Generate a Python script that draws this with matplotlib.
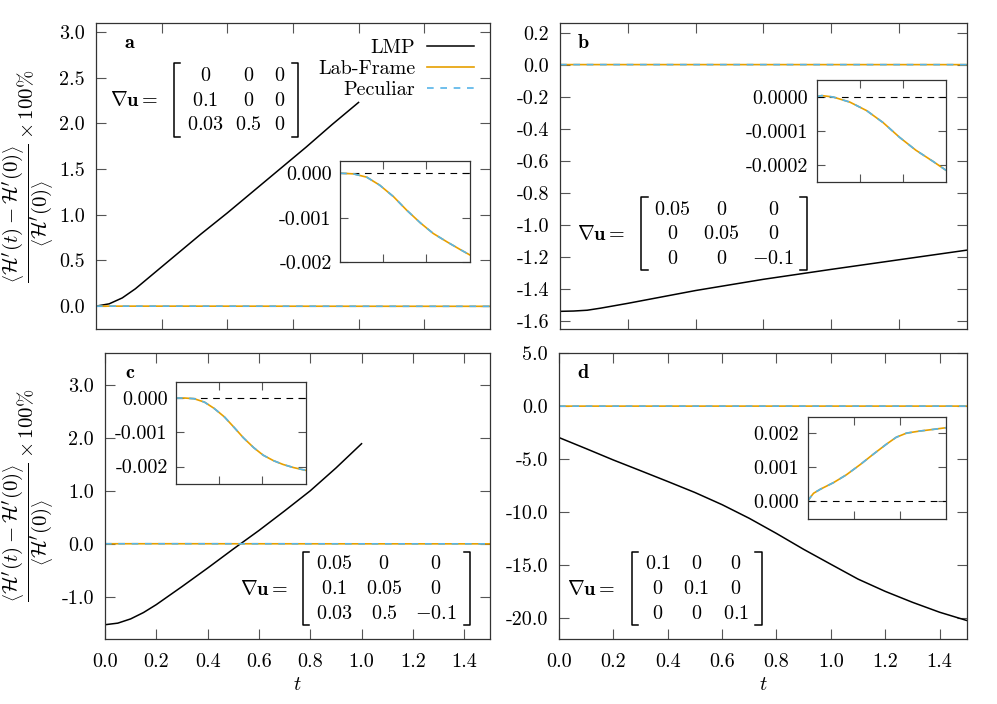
import matplotlib
matplotlib.use('Agg')
import matplotlib.pyplot as plt
from matplotlib.ticker import FormatStrFormatter, FixedLocator

plt.rcParams['font.family'] = 'cmr10'
plt.rcParams['mathtext.fontset'] = 'cm'
plt.rcParams['axes.unicode_minus'] = False
plt.rcParams['font.size'] = 14.5

# --- data ---
# panel a
t_lmp_a = [0, 0.05, 0.1, 0.15, 0.2, 0.25, 0.3, 0.4, 0.5, 0.6, 0.7, 0.8, 0.9, 1.0]
lmp_a = [0, 0.025, 0.09, 0.19, 0.31, 0.43, 0.55, 0.79, 1.02, 1.26, 1.5, 1.74, 1.99, 2.23]
t_lab_a = [0, 0.155, 0.31, 0.46, 0.62, 0.77, 0.93, 1.08, 1.24, 1.39, 1.5]
lab_a = [0, -0.000015, -0.00009, -0.00027, -0.00053, -0.00083, -0.00112, -0.00136, -0.00155, -0.00172, -0.00184]
pec_a = [0, -0.000015, -0.00009, -0.00027, -0.00053, -0.00083, -0.00112, -0.00136, -0.00155, -0.00172, -0.00184]

# panel b
t_lmp_b = [0, 0.05, 0.1, 0.15, 0.25, 0.375, 0.5, 0.75, 1.0, 1.25, 1.5]
lmp_b = [-1.54, -1.538, -1.533, -1.52, -1.49, -1.45, -1.41, -1.34, -1.278, -1.218, -1.158]
t_lab_b = [0, 0.06, 0.19, 0.385, 0.58, 0.77, 0.96, 1.15, 1.35, 1.5]
lab_b = [0, 0.000003, -0.000001, -0.000016, -0.000041, -0.000076, -0.000119, -0.000157, -0.00019, -0.000216]
pec_b = [0, 0.000003, -0.000001, -0.000016, -0.000041, -0.000076, -0.000119, -0.000157, -0.00019, -0.000216]

# panel c
t_lmp_c = [0, 0, 0.05, 0.1, 0.15, 0.2, 0.25, 0.3, 0.4, 0.5, 0.6, 0.7, 0.8, 0.9, 1.0]
lmp_c = [0, -1.53, -1.5, -1.42, -1.3, -1.15, -0.98, -0.81, -0.46, -0.1, 0.25, 0.62, 1.0, 1.43, 1.89]
t_lab_c = [0, 0.1, 0.21, 0.33, 0.44, 0.56, 0.67, 0.78, 0.9, 1.01, 1.13, 1.24, 1.36, 1.5]
lab_c = [0, 0, -0.00002, -0.00012, -0.0003, -0.00055, -0.00085, -0.00116, -0.00145, -0.00167, -0.00183, -0.00194, -0.00203, -0.00211]
pec_c = [0, 0, -0.00002, -0.00012, -0.0003, -0.00055, -0.00085, -0.00116, -0.00145, -0.00167, -0.00183, -0.00194, -0.00203, -0.00211]

# panel d
t_lmp_d = [0, 0, 0.1, 0.2, 0.3, 0.4, 0.5, 0.6, 0.7, 0.8, 0.9, 1.0, 1.1, 1.2, 1.3, 1.4, 1.5]
lmp_d = [0, -2.97, -4.02, -5.09, -6.1, -7.12, -8.16, -9.31, -10.6, -12.03, -13.53, -14.94, -16.34, -17.5, -18.53, -19.47, -20.25]
t_lab_d = [0, 0.03, 0.065, 0.14, 0.28, 0.42, 0.57, 0.71, 0.85, 0.96, 1.07, 1.21, 1.36, 1.5]
lab_d = [0, 0.00012, 0.00024, 0.00036, 0.00055, 0.00078, 0.00108, 0.00138, 0.00167, 0.00188, 0.002, 0.00206, 0.00211, 0.00216]
pec_d = [0, 0.00012, 0.00024, 0.00036, 0.00055, 0.00078, 0.00108, 0.00138, 0.00167, 0.00188, 0.002, 0.00206, 0.00211, 0.00216]

# velocity gradient tensors
grad_a = [['0', '0', '0'], ['0.1', '0', '0'], ['0.03', '0.5', '0']]
grad_b = [['0.05', '0', '0'], ['0', '0.05', '0'], ['0', '0', '-0.1']]
grad_c = [['0.05', '0', '0'], ['0.1', '0.05', '0'], ['0.03', '0.5', '-0.1']]
grad_d = [['0.1', '0', '0'], ['0', '0.1', '0'], ['0', '0', '0.1']]

ORANGE = '#E69F00'
BLUE = '#56B4E9'
TICKC = '#555555'


def style_axes(ax, length=7):
    ax.tick_params(direction='in', top=True, right=True, length=length, width=0.8,
                   color=TICKC, labelcolor='black')
    ax.tick_params(axis='y', pad=8)
    ax.tick_params(axis='x', pad=10)
    for s in ax.spines.values():
        s.set_color('#333333')
        s.set_linewidth(0.9)


def draw_main(ax, t_lmp, lmp, t_lab, lab, pec):
    ax.plot(t_lmp, lmp, color='black', lw=1.1, label='LMP')
    ax.plot(t_lab, lab, color=ORANGE, lw=1.2, label='Lab-Frame')
    ax.plot(t_lab, pec, color=BLUE, lw=1.2, dashes=(4, 4), label='Peculiar')
    ax.set_xlim(0, 1.5)


def draw_inset(rect, t_lab, lab, pec, ylim, yticks, fmt):
    ins = fig.add_axes(rect)
    ins.axhline(0, color='black', lw=0.8, dashes=(6, 5))
    ins.plot(t_lab, lab, color=ORANGE, lw=1.2)
    ins.plot(t_lab, pec, color=BLUE, lw=1.2, dashes=(4, 4))
    ins.set_xlim(0, 1.5)
    ins.set_ylim(*ylim)
    ins.xaxis.set_major_locator(FixedLocator([0.5, 1.0]))
    ins.set_xticklabels([])
    ins.yaxis.set_major_locator(FixedLocator(yticks))
    ins.yaxis.set_major_formatter(FormatStrFormatter(fmt))
    style_axes(ins, length=6)
    ins.tick_params(axis='y', pad=6)
    return ins


def draw_matrix(ax, rows, lab_x, box, cols, row_y):
    tr = ax.transAxes
    ax.text(lab_x, row_y[1], r'$\mathbf{\nabla u} =$', transform=tr,
            ha='left', va='center_baseline')
    for i, row in enumerate(rows):
        for j, s in enumerate(row):
            ax.text(cols[j], row_y[i], '$' + s + '$', transform=tr,
                    ha='center', va='center_baseline')
    l, r, b, t = box
    sw = 0.016
    ax.plot([l + sw, l, l, l + sw], [t, t, b, b], transform=tr, color='black', lw=1.1)
    ax.plot([r - sw, r, r, r - sw], [t, t, b, b], transform=tr, color='black', lw=1.1)


fig = plt.figure(figsize=(9.97, 7.04), dpi=100)

ax_a = fig.add_axes([0.0963, 0.5327, 0.395, 0.4347])
ax_b = fig.add_axes([0.5617, 0.5327, 0.408, 0.4347])
ax_c = fig.add_axes([0.1053, 0.0923, 0.386, 0.406])
ax_d = fig.add_axes([0.5607, 0.0923, 0.409, 0.406])

# panel a
draw_main(ax_a, t_lmp_a, lmp_a, t_lab_a, lab_a, pec_a)
ax_a.set_ylim(-0.25, 3.1)
ax_a.yaxis.set_major_locator(FixedLocator([0, 0.5, 1.0, 1.5, 2.0, 2.5, 3.0]))
ax_a.xaxis.set_major_locator(FixedLocator([0.25, 0.5, 0.75, 1.0, 1.25]))
ax_a.set_xticklabels([])
ax_a.legend(loc='upper right', frameon=False, markerfirst=False, handlelength=2.3,
            handletextpad=0.6, labelspacing=0.15, borderpad=0.2, borderaxespad=0.6)

# panel b
draw_main(ax_b, t_lmp_b, lmp_b, t_lab_b, lab_b, pec_b)
ax_b.set_ylim(-1.65, 0.26)
ax_b.yaxis.set_major_locator(FixedLocator([-1.6, -1.4, -1.2, -1.0, -0.8, -0.6, -0.4, -0.2, 0.0, 0.2]))
ax_b.xaxis.set_major_locator(FixedLocator([0.25, 0.5, 0.75, 1.0, 1.25]))
ax_b.set_xticklabels([])

# panel c
draw_main(ax_c, t_lmp_c, lmp_c, t_lab_c, lab_c, pec_c)
ax_c.set_ylim(-1.8, 3.6)
ax_c.yaxis.set_major_locator(FixedLocator([-1.0, 0.0, 1.0, 2.0, 3.0]))
ax_c.xaxis.set_major_locator(FixedLocator([0, 0.2, 0.4, 0.6, 0.8, 1.0, 1.2, 1.4]))
ax_c.xaxis.set_major_formatter(FormatStrFormatter('%.1f'))
ax_c.set_xlabel(r'$t$', labelpad=4)

# panel d
draw_main(ax_d, t_lmp_d, lmp_d, t_lab_d, lab_d, pec_d)
ax_d.set_ylim(-22, 5)
ax_d.yaxis.set_major_locator(FixedLocator([-20, -15, -10, -5, 0, 5]))
ax_d.xaxis.set_major_locator(FixedLocator([0, 0.2, 0.4, 0.6, 0.8, 1.0, 1.2, 1.4]))
ax_d.xaxis.set_major_formatter(FormatStrFormatter('%.1f'))
ax_d.set_xlabel(r'$t$', labelpad=4)

for ax in (ax_a, ax_b, ax_c, ax_d):
    ax.yaxis.set_major_formatter(FormatStrFormatter('%.1f'))
    style_axes(ax)

for ax, lab, (x, y) in [(ax_a, 'a', (0.086, 0.935)), (ax_b, 'b', (0.057, 0.935)),
                        (ax_c, 'c', (0.065, 0.93)), (ax_d, 'd', (0.059, 0.93))]:
    ax.text(x, y, r'$\mathbf{' + lab + '}$', transform=ax.transAxes, ha='center', va='center')

draw_matrix(ax_a, grad_a, 0.036, (0.198, 0.513, 0.627, 0.869),
            [0.278, 0.388, 0.467], [0.833, 0.753, 0.673])
draw_matrix(ax_b, grad_b, 0.042, (0.200, 0.606, 0.193, 0.432),
            [0.277, 0.397, 0.524], [0.394, 0.316, 0.236])
draw_matrix(ax_c, grad_c, 0.351, (0.515, 0.948, 0.049, 0.305),
            [0.596, 0.725, 0.859], [0.268, 0.181, 0.093])
draw_matrix(ax_d, grad_d, 0.020, (0.178, 0.497, 0.049, 0.305),
            [0.242, 0.337, 0.433], [0.268, 0.181, 0.093])

# insets
draw_inset([0.341, 0.628, 0.130, 0.143], t_lab_a, lab_a, pec_a,
           (-0.002, 0.00027), [-0.002, -0.001, 0.0], '%.3f')
draw_inset([0.819, 0.741, 0.130, 0.146], t_lab_b, lab_b, pec_b,
           (-0.000251, 0.00005), [-0.0002, -0.0001, 0.0], '%.4f')
draw_inset([0.1765, 0.3125, 0.130, 0.145], t_lab_c, lab_c, pec_c,
           (-0.00251, 0.00047), [-0.002, -0.001, 0.0], '%.3f')
draw_inset([0.810, 0.263, 0.139, 0.145], t_lab_d, lab_d, pec_d,
           (-0.00051, 0.00248), [0.0, 0.001, 0.002], '%.3f')

ylab = (r'$\dfrac{\left\langle\mathcal{H}^{\prime}(t)-\mathcal{H}^{\prime}(0)\right\rangle}'
        r'{\left\langle\mathcal{H}^{\prime}(0)\right\rangle}\times 100\%$')
fig.text(0.029, 0.75, ylab, rotation=90, ha='center', va='center', fontsize=15)
fig.text(0.029, 0.297, ylab, rotation=90, ha='center', va='center', fontsize=15)

fig.savefig('out.png', dpi=100)
